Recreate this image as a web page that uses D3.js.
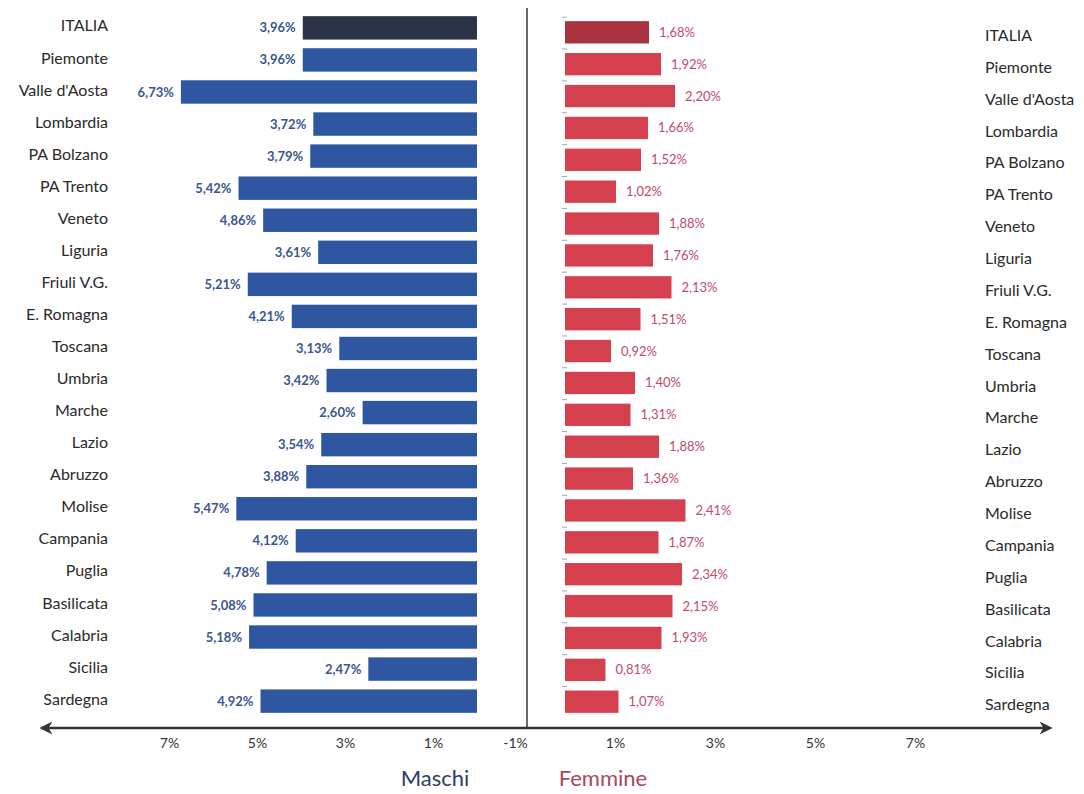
<!DOCTYPE html>
<html><head><meta charset="utf-8">
<script src="https://cdn.jsdelivr.net/npm/d3@7"></script>
<style>body{margin:0;background:#fff}svg{display:block}</style>
</head><body>
<svg id="c" width="1084" height="794"></svg>
<script>
const regions = ["ITALIA","Piemonte","Valle d'Aosta","Lombardia","PA Bolzano","PA Trento","Veneto","Liguria","Friuli V.G.","E. Romagna","Toscana","Umbria","Marche","Lazio","Abruzzo","Molise","Campania","Puglia","Basilicata","Calabria","Sicilia","Sardegna"];
const maschi = [3.96,3.96,6.73,3.72,3.79,5.42,4.86,3.61,5.21,4.21,3.13,3.42,2.60,3.54,3.88,5.47,4.12,4.78,5.08,5.18,2.47,4.92];
const femmine = [1.68,1.92,2.20,1.66,1.52,1.02,1.88,1.76,2.13,1.51,0.92,1.40,1.31,1.88,1.36,2.41,1.87,2.34,2.15,1.93,0.81,1.07];
const leftTicks = [7,5,3,1];
const rightTicks = [-1,1,3,5,7];

const svg = d3.select("#c");
const font = "Lato, 'Open Sans', sans-serif";
const fmt = v => v.toFixed(2).replace(".", ",") + "%";

const xL = d3.scaleLinear().domain([0, 8]).range([477, 477 - 8*44]);
const xR = d3.scaleLinear().domain([0, 8]).range([565, 565 + 8*50]);
const yL = d3.scaleBand().domain(regions).range([12, 717]).paddingInner(0.27).paddingOuter(0.13);
const yR = d3.scaleBand().domain(regions).range([17, 717]).paddingInner(0.3).paddingOuter(0.13);

// center line
svg.append("line").attr("x1",527).attr("x2",527).attr("y1",8).attr("y2",728)
  .attr("stroke","#444").attr("stroke-width",1.6);

// male bars
svg.append("g").selectAll("rect").data(regions).join("rect")
  .attr("x",(d,i)=>xL(maschi[i])).attr("y",d=>yL(d))
  .attr("width",(d,i)=>xL(0)-xL(maschi[i])).attr("height",yL.bandwidth())
  .attr("fill",(d,i)=>i===0?"#2a3347":"#2f56a1");
svg.append("g").selectAll("text").data(regions).join("text")
  .attr("x",(d,i)=>xL(maschi[i])-7).attr("y",d=>yL(d)+yL.bandwidth()/2)
  .attr("dy","0.35em").attr("text-anchor","end")
  .attr("font-family",font).attr("font-size",13).attr("font-weight","bold")
  .attr("fill","#3a5590").text((d,i)=>fmt(maschi[i]));
svg.append("g").selectAll("text").data(regions).join("text")
  .attr("x",108).attr("y",d=>yL(d)+yL.bandwidth()/2-2)
  .attr("dy","0.35em").attr("text-anchor","end")
  .attr("font-family",font).attr("font-size",16).attr("fill","#2a2a2a").text(d=>d);

// female bars
svg.append("g").selectAll("rect").data(regions).join("rect")
  .attr("x",xR(0)).attr("y",d=>yR(d))
  .attr("width",(d,i)=>xR(femmine[i])-xR(0)).attr("height",yR.bandwidth())
  .attr("fill",(d,i)=>i===0?"#a9323f":"#d5404e");
svg.append("g").selectAll("line").data(regions).join("line")
  .attr("x1",xR(0)-3).attr("x2",xR(0)+2)
  .attr("y1",d=>yR(d)-4).attr("y2",d=>yR(d)-4)
  .attr("stroke","#9aa6bf").attr("stroke-width",1);
svg.append("g").selectAll("text").data(regions).join("text")
  .attr("x",(d,i)=>xR(femmine[i])+10).attr("y",d=>yR(d)+yR.bandwidth()/2)
  .attr("dy","0.35em").attr("text-anchor","start")
  .attr("font-family",font).attr("font-size",13)
  .attr("fill","#c24a66").text((d,i)=>fmt(femmine[i]));
svg.append("g").selectAll("text").data(regions).join("text")
  .attr("x",985).attr("y",d=>yR(d)+yR.bandwidth()/2+3)
  .attr("dy","0.35em").attr("text-anchor","start")
  .attr("font-family",font).attr("font-size",16).attr("fill","#2a2a2a").text(d=>d);

// axis line with arrows
const defs = svg.append("defs");
defs.append("marker").attr("id","arr").attr("viewBox","0 0 10 10").attr("refX",8).attr("refY",5)
  .attr("markerWidth",5).attr("markerHeight",5).attr("orient","auto-start-reverse")
  .append("path").attr("d","M0,0 L10,5 L0,10 L3,5 Z").attr("fill","#333");
svg.append("line").attr("x1",42).attr("x2",1050).attr("y1",728).attr("y2",728)
  .attr("stroke","#333").attr("stroke-width",2.6)
  .attr("marker-start","url(#arr)").attr("marker-end","url(#arr)");

// tick labels
const gL = svg.append("g").attr("transform","translate(0,735)")
  .call(d3.axisBottom(xL).tickValues(leftTicks).tickSize(0).tickFormat(d=>d+"%"));
const gR = svg.append("g").attr("transform","translate(0,735)")
  .call(d3.axisBottom(xR).tickValues(rightTicks).tickSize(0).tickFormat(d=>d+"%"));
[gL,gR].forEach(g=>{
  g.select(".domain").remove();
  g.selectAll("text").attr("font-family",font).attr("font-size",14).attr("fill","#333");
});

// legend titles
svg.append("text").attr("x",435).attr("y",786).attr("text-anchor","middle")
  .attr("font-family",font).attr("font-size",22).attr("fill","#2e3d66").text("Maschi");
svg.append("text").attr("x",603).attr("y",786).attr("text-anchor","middle")
  .attr("font-family",font).attr("font-size",22).attr("fill","#a8485e").text("Femmine");
</script>
</body></html>
